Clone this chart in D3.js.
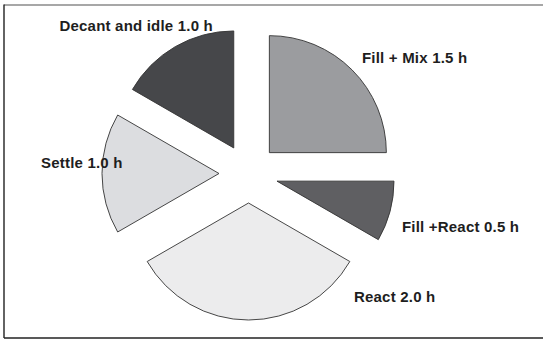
<!DOCTYPE html>
<html>
<head>
<meta charset="utf-8">
<script src="https://cdn.jsdelivr.net/npm/d3@7"></script>
<style>
  html, body { margin: 0; padding: 0; background: #fff; }
  svg { display: block; }
  .lbl { font-family: "Liberation Sans", Arial, Helvetica, sans-serif; font-weight: bold; font-size: 15px; fill: #1e1e1e; letter-spacing: 0.2px; }
</style>
</head>
<body>
<svg id="chart" width="543" height="339"></svg>
<script>
// Cycle phases (hours), clockwise from 12 o'clock
const phases = ["Fill + Mix", "Fill +React", "React", "Settle", "Decant and idle"];
const hours = [1.5, 0.5, 2.0, 1.0, 1.0];
const fills = ["#9b9c9f", "#5f5f62", "#ececed", "#dcdde0", "#46474a"];

const W = 543, H = 339;
const cx = 248.5, cy = 173.5, R = 117, explode = 29.5;

// label anchor (start of text, baseline) as offsets from the pie centre
const labelPos = [[113.5, -110.7], [153.5, 58.7], [105.5, 128], [-207.5, -6], [-189, -143]];

const svg = d3.select("#chart");

// frame
svg.append("line").attr("x1", 4).attr("y1", 5).attr("x2", W).attr("y2", 5)
  .attr("stroke", "#8a8a8a").attr("stroke-width", 1.6);
svg.append("line").attr("x1", 4).attr("y1", 4.5).attr("x2", 4).attr("y2", 338)
  .attr("stroke", "#222").attr("stroke-width", 1.4);
svg.append("line").attr("x1", 4).attr("y1", 338).attr("x2", W).attr("y2", 338)
  .attr("stroke", "#222").attr("stroke-width", 1.6);

const pie = d3.pie().sort(null).value(d => d.h).startAngle(0).endAngle(2 * Math.PI);
const arc = d3.arc().innerRadius(0).outerRadius(R);

const data = phases.map((p, i) => ({ name: p, h: hours[i], fill: fills[i], lp: labelPos[i] }));
const arcs = pie(data);

const g = svg.append("g").attr("transform", `translate(${cx},${cy})`);

g.selectAll("path.slice")
  .data(arcs)
  .join("path")
  .attr("class", "slice")
  .attr("d", arc)
  .attr("transform", d => {
    const a = (d.startAngle + d.endAngle) / 2;
    return `translate(${explode * Math.sin(a)},${-explode * Math.cos(a)})`;
  })
  .attr("fill", d => d.data.fill)
  .attr("stroke", "#333")
  .attr("stroke-width", 0.9)
  .attr("stroke-linejoin", "miter");

g.selectAll("text.lbl")
  .data(arcs)
  .join("text")
  .attr("class", "lbl")
  .attr("x", d => d.data.lp[0])
  .attr("y", d => d.data.lp[1])
  .text(d => `${d.data.name} ${d.data.h.toFixed(1)} h`);
</script>
</body>
</html>
